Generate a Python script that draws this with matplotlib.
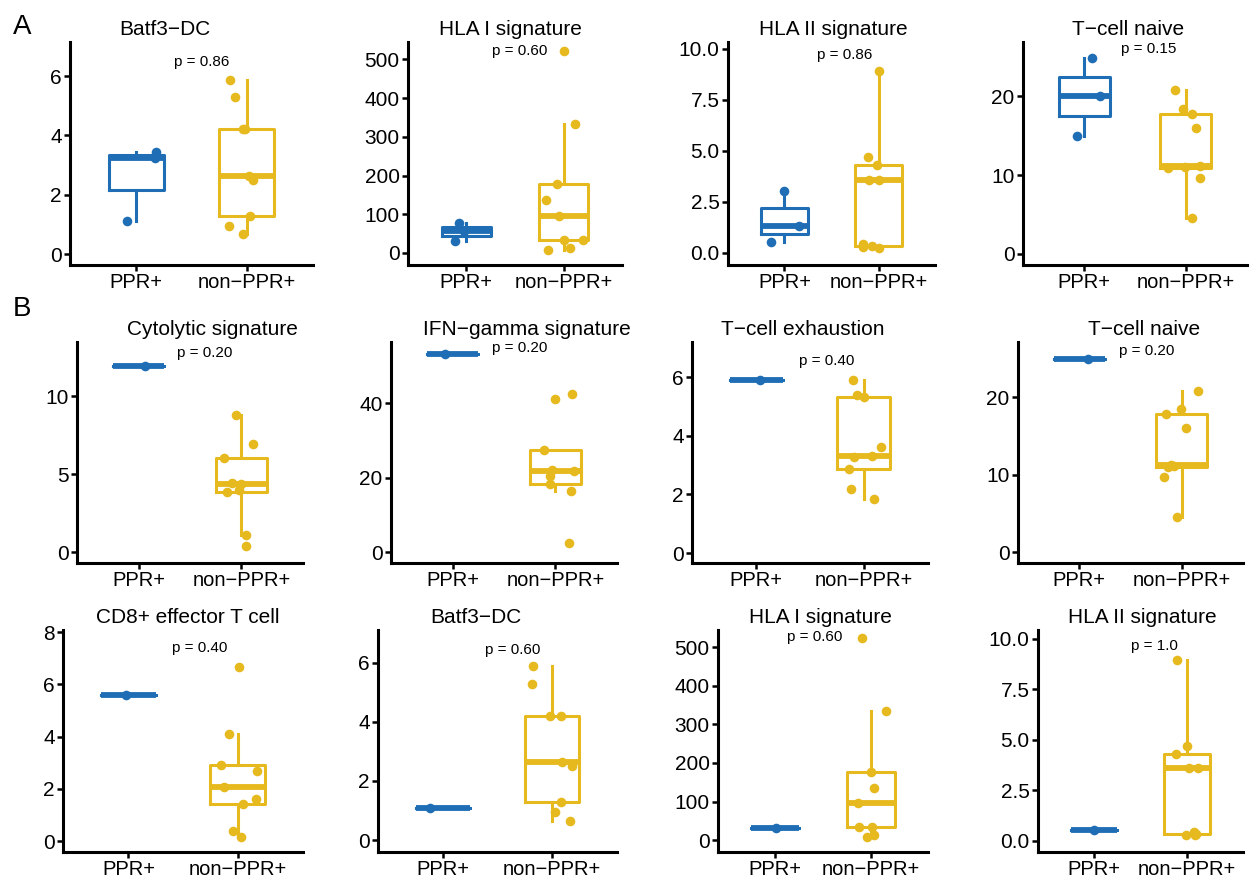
import matplotlib
matplotlib.use("Agg")
import matplotlib.pyplot as plt
import numpy as np

plt.rcParams['font.family'] = ['Liberation Sans', 'DejaVu Sans']

groups = ["PPR+", "non\u2212PPR+"]
BLUE = "#1F6EB5"
GOLD = "#E6B91E"

# ---- values ----
# cohort A, PPR+ (3 samples)
batf3_ppr_a = [1.1, 3.25, 3.45]
hla1_ppr_a = [32, 57, 78]
hla2_ppr_a = [0.52, 1.3, 3.06]
naive_ppr_a = [15.0, 20.0, 24.9]

# cohort B, PPR+ (1 sample)
cyto_ppr_b = [11.9]
ifng_ppr_b = [53.1]
exh_ppr_b = [5.9]
naive_ppr_b = [24.9]
cd8_ppr_b = [5.59]
batf3_ppr_b = [1.1]
hla1_ppr_b = [30]
hla2_ppr_b = [0.54]

# non-PPR+ (same 9 samples in both)
batf3_non = [0.66, 0.94, 1.28, 2.49, 2.63, 4.2, 4.2, 5.28, 5.87]
hla1_non = [7, 13, 33, 34.5, 96.5, 136, 177, 334, 523]
hla2_non = [0.25, 0.29, 0.33, 0.44, 3.6, 3.6, 4.3, 4.71, 8.94]
naive_non = [4.55, 9.7, 10.95, 11.1, 11.2, 16.0, 17.8, 18.4, 20.8]
cyto_non = [0.36, 1.12, 3.88, 4.0, 4.35, 4.4, 6.0, 6.9, 8.78]
ifng_non = [2.5, 16.4, 18.2, 20.3, 21.65, 21.9, 27.3, 41.1, 42.5]
exh_non = [1.86, 2.2, 2.86, 3.28, 3.32, 3.63, 5.32, 5.4, 5.91]
cd8_non = [0.16, 0.38, 1.42, 1.62, 2.05, 2.68, 2.91, 4.09, 6.68]

titles = ["Batf3\u2212DC", "HLA I signature", "HLA II signature", "T\u2212cell naive",
          "Cytolytic signature", "IFN\u2212gamma signature", "T\u2212cell exhaustion", "T\u2212cell naive",
          "CD8+ effector T cell", "Batf3\u2212DC", "HLA I signature", "HLA II signature"]
pvals = ["p = 0.86", "p = 0.60", "p = 0.86", "p = 0.15",
         "p = 0.20", "p = 0.20", "p = 0.40", "p = 0.20",
         "p = 0.40", "p = 0.60", "p = 0.60", "p = 1.0"]
ppr_sets = [batf3_ppr_a, hla1_ppr_a, hla2_ppr_a, naive_ppr_a,
            cyto_ppr_b, ifng_ppr_b, exh_ppr_b, naive_ppr_b,
            cd8_ppr_b, batf3_ppr_b, hla1_ppr_b, hla2_ppr_b]
non_sets = [batf3_non, hla1_non, hla2_non, naive_non,
            cyto_non, ifng_non, exh_non, naive_non,
            cd8_non, batf3_non, hla1_non, hla2_non]

# horizontal jitter of each dot (category units), as seen in the picture
jit_ppr = [[-0.08, 0.17, 0.18], [-0.12, -0.02, -0.08], [-0.14, 0.15, 0.0], [-0.07, 0.16, 0.08],
           [0.06], [-0.07], [0.03], [0.08],
           [-0.02], [-0.12], [0.01], [0.0]]
jit_non = [[-0.03, -0.16, 0.03, 0.06, 0.02, -0.03, -0.02, -0.11, -0.15],
           [-0.16, 0.07, 0.0, 0.20, -0.05, -0.18, -0.07, 0.12, 0.0],
           [0.0, -0.17, -0.07, -0.17, -0.10, 0.0, -0.02, -0.11, 0.0],
           [0.06, 0.14, -0.18, -0.01, 0.14, 0.10, 0.06, -0.03, -0.11],
           [0.05, 0.05, -0.14, -0.02, 0.0, -0.09, -0.17, 0.11, -0.05],
           [0.13, 0.15, -0.05, -0.05, 0.18, -0.03, -0.11, 0.0, 0.16],
           [0.10, -0.12, -0.14, -0.09, 0.08, 0.16, 0.0, -0.06, -0.10],
           [-0.05, -0.17, -0.13, -0.07, -0.10, 0.04, -0.15, -0.01, 0.16],
           [0.03, -0.04, 0.05, 0.17, -0.12, 0.18, -0.15, -0.08, 0.01],
           [0.17, 0.03, 0.08, 0.19, 0.09, -0.02, 0.08, -0.18, -0.17],
           [-0.04, 0.03, -0.12, 0.01, -0.13, 0.03, 0.0, 0.16, -0.09],
           [0.09, -0.01, 0.1, 0.07, 0.02, 0.12, -0.12, 0.0, -0.11]]

yticks = [[0, 2, 4, 6], [0, 100, 200, 300, 400, 500], [0, 2.5, 5, 7.5, 10], [0, 10, 20],
          [0, 5, 10], [0, 20, 40], [0, 2, 4, 6], [0, 10, 20],
          [0, 2, 4, 6, 8], [0, 2, 4, 6], [0, 100, 200, 300, 400, 500], [0, 2.5, 5, 7.5, 10]]
ylims = [(-0.37, 7.15), (-31, 545), (-0.59, 10.34), (-1.4, 26.9),
         (-0.7, 13.46), (-2.95, 56.4), (-0.34, 7.2), (-1.4, 27.1),
         (-0.42, 8.08), (-0.4, 7.1), (-31, 545), (-0.57, 10.44)]
decimal_ticks = [2, 11]

# ---- layout (pixels in a 1250x881 canvas) ----
W, H = 1250, 881
rows = [(42, 265), (342, 563), (630, 852)]
cols = [[(70, 313), (408, 622), (728, 935), (1023, 1247)],
        [(77, 303), (391, 617), (692, 928), (1018, 1243)],
        [(63, 303), (378, 617), (718, 928), (1038, 1243)]]
title_x = [0.39, 0.48, 0.51, 0.47, 0.60, 0.60, 0.47, 0.56, 0.52, 0.41, 0.49, 0.51]
p_xy = [(0.54, 0.91), (0.52, 0.96), (0.565, 0.94), (0.56, 0.97),
        (0.566, 0.95), (0.57, 0.973), (0.572, 0.914), (0.573, 0.96),
        (0.57, 0.92), (0.565, 0.91), (0.46, 0.97), (0.57, 0.93)]

fig = plt.figure(figsize=(W / 100, H / 100), dpi=100)

for i in range(12):
    r, c = divmod(i, 4)
    top, bot = rows[r]
    x0, x1 = cols[r][c]
    ax = fig.add_axes([x0 / W, 1 - bot / H, (x1 - x0) / W, (bot - top) / H])

    data = [ppr_sets[i], non_sets[i]]
    bp = ax.boxplot(data, positions=[1, 2], widths=0.5, whis=1.5, showfliers=False,
                    showcaps=False, manage_ticks=False)
    for k, col in enumerate([BLUE, GOLD]):
        bp['boxes'][k].set(color=col, linewidth=2.2)
        bp['medians'][k].set(color=col, linewidth=4.2, solid_capstyle='butt')
        for w in bp['whiskers'][2 * k:2 * k + 2]:
            w.set(color=col, linewidth=2.2)

    ax.scatter(1 + np.array(jit_ppr[i]), ppr_sets[i], s=48, color=BLUE, zorder=3, linewidths=0)
    ax.scatter(2 + np.array(jit_non[i]), non_sets[i], s=48, color=GOLD, zorder=3, linewidths=0)

    ax.set_xlim(0.4, 2.6)
    ax.set_ylim(*ylims[i])
    ax.set_xticks([1, 2])
    ax.set_xticklabels(groups, fontsize=14.5)
    ax.set_yticks(yticks[i])
    if i in decimal_ticks:
        ax.set_yticklabels(["%.1f" % v for v in yticks[i]])
    else:
        ax.set_yticklabels([str(v) for v in yticks[i]])

    for s in ['top', 'right']:
        ax.spines[s].set_visible(False)
    for s in ['left', 'bottom']:
        ax.spines[s].set_linewidth(2.2)
    ax.tick_params(axis='y', direction='out', length=4, width=1.8, labelsize=15, pad=2)
    ax.tick_params(axis='x', direction='out', length=4, width=1.8, pad=1.5)

    ax.set_title(titles[i], x=title_x[i], fontsize=15, pad=5)
    ax.text(p_xy[i][0], p_xy[i][1], pvals[i], transform=ax.transAxes,
            ha='center', va='center', fontsize=11)

fig.text(22 / W, 1 - 27 / H, "A", fontsize=20, ha='center', va='center')
fig.text(22 / W, 1 - 309 / H, "B", fontsize=20, ha='center', va='center')

fig.savefig("out.png", dpi=100)
